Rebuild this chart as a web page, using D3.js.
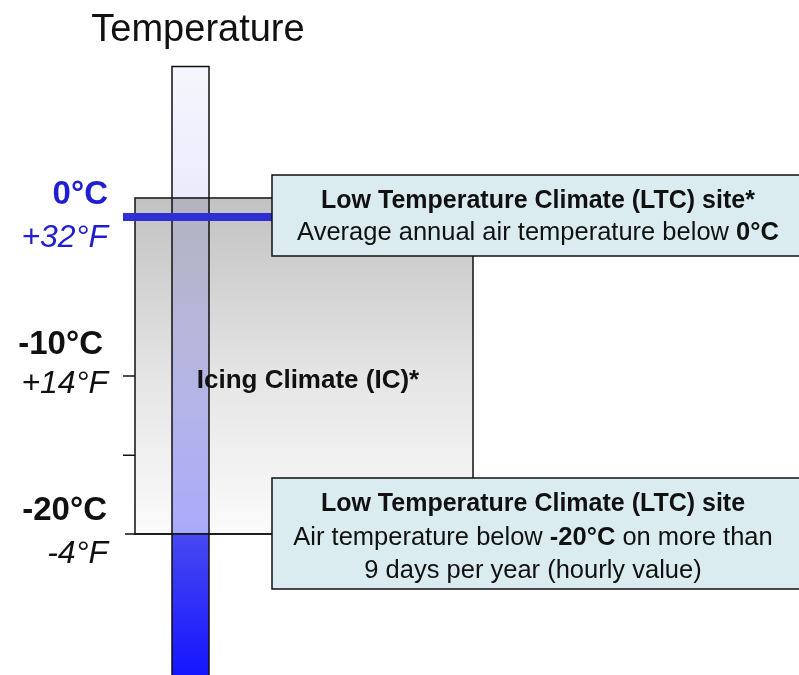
<!DOCTYPE html>
<html><head><meta charset="utf-8">
<script src="https://cdn.jsdelivr.net/npm/d3@7"></script>
<style>
html,body{margin:0;padding:0;background:#fff;}
svg{display:block;font-family:Arial,"Liberation Sans",sans-serif;}
</style></head>
<body>
<svg id="c" width="799" height="675"></svg>
<script>
// ---- data ----
const titleText = "Temperature";
const tickTemps = [-10, -15];
const labelTemps = [0, -10, -20];
const celsiusLabels = ["0°C", "-10°C", "-20°C"];
const fahrenheitLabels = ["+32°F", "+14°F", "-4°F"];
const freezeTemp = 0;
const ltcTemp = -20;
const icingTopTemp = 1.2;
const thermoTopTemp = 9.5;
const icingLabel = "Icing Climate (IC)*";
const box1Lines = [
  [{t:"Low Temperature Climate (LTC) site*", b:true}],
  [{t:"Average annual air temperature below ", b:false}, {t:"0°C", b:true}]
];
const box2Lines = [
  [{t:"Low Temperature Climate (LTC) site", b:true}],
  [{t:"Air temperature below ", b:false}, {t:"-20°C", b:true}, {t:" on more than", b:false}],
  [{t:"9 days per year (hourly value)", b:false}]
];

// ---- layout ----
const svg = d3.select("#c");
const y = d3.scaleLinear().domain([0, -20]).range([217, 534]);
const defs = svg.append("defs");

const gGrey = defs.append("linearGradient").attr("id","grey").attr("x1",0).attr("y1",0).attr("x2",0).attr("y2",1);
gGrey.append("stop").attr("offset","0%").attr("stop-color","#c2c2c2");
gGrey.append("stop").attr("offset","55%").attr("stop-color","#e6e6e6");
gGrey.append("stop").attr("offset","100%").attr("stop-color","#fbfbfb");

const gUp = defs.append("linearGradient").attr("id","thUp").attr("x1",0).attr("y1",0).attr("x2",0).attr("y2",1);
gUp.append("stop").attr("offset","0%").attr("stop-color","#f6f6fe");
gUp.append("stop").attr("offset","30%").attr("stop-color","#eaeafc");
gUp.append("stop").attr("offset","100%").attr("stop-color","#adadff");

const gDn = defs.append("linearGradient").attr("id","thDn").attr("x1",0).attr("y1",0).attr("x2",0).attr("y2",1);
gDn.append("stop").attr("offset","0%").attr("stop-color","#4848f2");
gDn.append("stop").attr("offset","100%").attr("stop-color","#1010ff");

const thX0 = 172, thX1 = 209;
const axisX = 135, greyRight = 473;
const boxX = 272, boxRight = 810;

// title
svg.append("text").attr("x",198).attr("y",41).attr("text-anchor","middle")
  .attr("font-size",38).attr("fill","#111").text(titleText);

// grey icing region
svg.append("rect").attr("x",axisX).attr("y",y(icingTopTemp))
  .attr("width",greyRight-axisX).attr("height",y(ltcTemp)-y(icingTopTemp))
  .attr("fill","url(#grey)").attr("stroke","#111").attr("stroke-width",1.5);

// thermometer
svg.append("rect").attr("x",thX0).attr("y",y(thermoTopTemp))
  .attr("width",thX1-thX0).attr("height",y(ltcTemp)-y(thermoTopTemp))
  .attr("fill","url(#thUp)").style("mix-blend-mode","multiply");
svg.append("rect").attr("x",thX0).attr("y",y(ltcTemp))
  .attr("width",thX1-thX0).attr("height",690-y(ltcTemp))
  .attr("fill","url(#thDn)");
svg.append("path")
  .attr("d",`M${thX0},690V${y(thermoTopTemp)}H${thX1}V690`)
  .attr("fill","none").attr("stroke","#111").attr("stroke-width",1.5);

// axis ticks
const axis = d3.axisLeft(y).tickValues(tickTemps).tickSize(12).tickFormat("");
const ag = svg.append("g").attr("transform",`translate(${axisX},0)`).call(axis);
ag.select(".domain").remove();
ag.selectAll("line").attr("stroke","#111").attr("stroke-width",1.5);

// -20 line
svg.append("line").attr("x1",125).attr("x2",boxX).attr("y1",y(ltcTemp)).attr("y2",y(ltcTemp))
  .attr("stroke","#111").attr("stroke-width",1.5);
// 0 line
svg.append("line").attr("x1",123).attr("x2",boxX).attr("y1",y(freezeTemp)).attr("y2",y(freezeTemp))
  .attr("stroke","#2f2fd4").attr("stroke-width",8);

// labels
const cShift = [-13, -22, -14];
const fShift = [30, 17, 29];
const cRight = [108, 103, 107];
labelTemps.forEach((t,i)=>{
  const col = t === freezeTemp ? "#1f1fd1" : "#111";
  svg.append("text").attr("x",cRight[i]).attr("y",y(t)+cShift[i]).attr("text-anchor","end")
    .attr("font-size",33).attr("font-weight","bold").attr("fill",col).text(celsiusLabels[i]);
  svg.append("text").attr("x",108).attr("y",y(t)+fShift[i]).attr("text-anchor","end")
    .attr("font-size",32).attr("font-style","italic").attr("fill",col).text(fahrenheitLabels[i]);
});

// icing label
svg.append("text").attr("x",308).attr("y",388).attr("text-anchor","middle")
  .attr("font-size",26).attr("font-weight","bold").attr("fill","#111").text(icingLabel);

// boxes
function drawBox(top, bottom, lines, cx, baselines){
  svg.append("rect").attr("x",boxX).attr("y",top).attr("width",boxRight-boxX).attr("height",bottom-top)
    .attr("fill","#daecef").attr("stroke","#111").attr("stroke-width",1.5);
  lines.forEach((ln,i)=>{
    const tx = svg.append("text").attr("x",cx).attr("y",baselines[i])
      .attr("text-anchor","middle").attr("font-size",25.5).attr("fill","#111");
    ln.forEach(p=>tx.append("tspan").attr("font-weight",p.b?"bold":"normal")
      .attr("font-size",p.b && ln.length===1 ? 25 : 25.5).text(p.t));
  });
}
drawBox(175, 256, box1Lines, 538, [208, 240]);
drawBox(478, 589, box2Lines, 533, [511, 545, 578]);
</script>
</body></html>
